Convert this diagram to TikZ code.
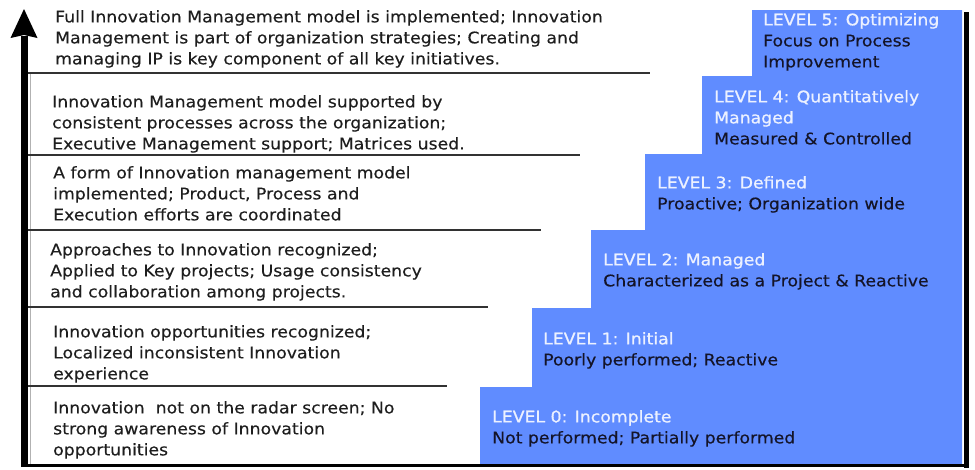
\documentclass[tikz,border=0pt]{standalone}
\usepackage{fontspec}
\newfontfamily\verd[FakeStretch=1.08,FakeBold=0.3]{DejaVu Sans}
\newfontfamily\verdtitle[FakeStretch=1.08,FakeBold=0.8]{DejaVu Sans}
\definecolor{stepblue}{RGB}{96,140,255}
\definecolor{titlecol}{RGB}{236,241,255}
\definecolor{bodycol}{RGB}{20,20,40}
\definecolor{leftcol}{RGB}{30,30,30}
\definecolor{sepcol}{RGB}{50,50,50}
\tikzset{
  txt/.style={anchor=north west, inner sep=0pt, align=left,
    font=\verd\fontsize{16}{21}\selectfont},
  lefttxt/.style={txt, text=leftcol},
  steptxt/.style={txt, text=bodycol},
  sepline/.style={draw=sepcol, line width=2pt},
}
\newcommand{\lvtitle}[1]{{\verdtitle\textcolor{titlecol}{#1}}}
\begin{document}
\begin{tikzpicture}[x=1pt,y=-1pt]
\useasboundingbox (0,0) rectangle (975,469);
% blue staircase
\fill[stepblue] (480,465) -- (480,387) -- (532,387) -- (532,308) -- (591,308)
  -- (591,230) -- (645,230) -- (645,154) -- (702,154) -- (702,76)
  -- (752,76) -- (752,10) -- (962,10) -- (962,465) -- cycle;
% thin left border
\draw[gray!60, line width=0.8pt] (30,72) -- (30,465);
% separators
\draw[sepline] (28,73) -- (650,73);
\draw[sepline] (28,155) -- (580,155);
\draw[sepline] (28,230) -- (541,230);
\draw[sepline] (28,307) -- (488,307);
\draw[sepline] (28,386) -- (447,386);
% frame right and bottom
\draw[black, line width=5pt] (966,12) -- (966,467.5);
\draw[black, line width=3pt] (21,465) -- (968.5,465);
% arrow
\draw[black, line width=7pt] (24,466) -- (24,36);
\fill[black] (10.5,38) -- (24,9) -- (37.5,38) -- (24,35) -- cycle;
% left texts
\node[lefttxt] (d6) at (55,10) {Full Innovation Management model is implemented; Innovation\\Management is part of organization strategies; Creating and\\managing IP is key component of all key initiatives.};
\node[lefttxt] (d5) at (52,95) {Innovation Management model supported by\\consistent processes across the organization;\\Executive Management support; Matrices used.};
\node[lefttxt] (d4) at (53,166) {A form of Innovation management model\\implemented; Product, Process and\\Execution efforts are coordinated};
\node[lefttxt] (d3) at (50,243) {Approaches to Innovation recognized;\\Applied to Key projects; Usage consistency\\and collaboration among projects.};
\node[lefttxt] (d2) at (53,325) {Innovation opportunities recognized;\\Localized inconsistent Innovation\\experience};
\node[lefttxt] (d1) at (53,401) {Innovation~ not on the radar screen; No\\strong awareness of Innovation\\opportunities};
% level texts
\node[steptxt] (l5) at (763,13) {\lvtitle{LEVEL 5: Optimizing}\\Focus on Process\\Improvement};
\node[steptxt] (l4) at (714,90) {\lvtitle{LEVEL 4: Quantitatively}\\\lvtitle{Managed}\\Measured \& Controlled};
\node[steptxt] (l3) at (657,176) {\lvtitle{LEVEL 3: Defined}\\Proactive; Organization wide};
\node[steptxt] (l2) at (603,253) {\lvtitle{LEVEL 2: Managed}\\Characterized as a Project \& Reactive};
\node[steptxt] (l1) at (543,332) {\lvtitle{LEVEL 1: Initial}\\Poorly performed; Reactive};
\node[steptxt] (l0) at (492,410) {\lvtitle{LEVEL 0: Incomplete}\\Not performed; Partially performed};
\end{tikzpicture}
\end{document}
